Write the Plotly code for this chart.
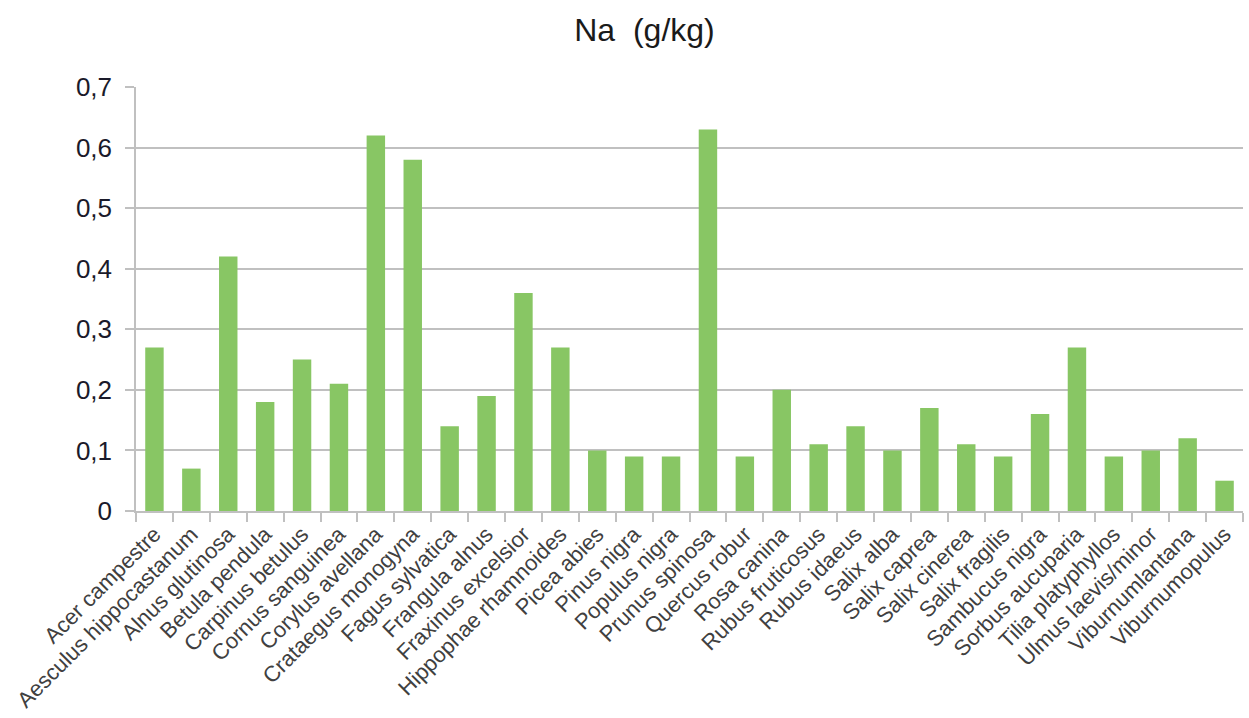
import plotly.graph_objects as go

species = ["Acer campestre", "Aesculus hippocastanum", "Alnus glutinosa", "Betula pendula",
           "Carpinus betulus", "Cornus sanguinea", "Corylus avellana", "Crataegus monogyna",
           "Fagus sylvatica", "Frangula alnus", "Fraxinus excelsior", "Hippophae rhamnoides",
           "Picea abies", "Pinus nigra", "Populus nigra", "Prunus spinosa", "Quercus robur",
           "Rosa canina", "Rubus fruticosus", "Rubus idaeus", "Salix alba", "Salix caprea",
           "Salix cinerea", "Salix fragilis", "Sambucus nigra", "Sorbus aucuparia",
           "Tilia platyphyllos", "Ulmus laevis/minor", "Viburnumlantana", "Viburnumopulus"]
na_values = [0.27, 0.07, 0.42, 0.18, 0.25, 0.21, 0.62, 0.58, 0.14, 0.19, 0.36, 0.27,
             0.10, 0.09, 0.09, 0.63, 0.09, 0.20, 0.11, 0.14, 0.10, 0.17, 0.11, 0.09,
             0.16, 0.27, 0.09, 0.10, 0.12, 0.05]
y_ticks = [0, 0.1, 0.2, 0.3, 0.4, 0.5, 0.6, 0.7]
title_text = "Na  (g/kg)"

grid_col = "#C0C0C0"
fig = go.Figure(go.Bar(x=species, y=na_values, marker=dict(color="#88C664", line=dict(width=0)),
                       hoverinfo="x+y"))

fig.update_layout(
    width=1249, height=718,
    margin=dict(l=136, r=6, t=87, b=207),
    paper_bgcolor="white", plot_bgcolor="white",
    separators=", ",
    bargap=0.5,
    showlegend=False,
    font=dict(family="Liberation Sans, Arial, sans-serif"),
    title=dict(text=title_text, x=0.516, xref="container", xanchor="center",
               y=1 - 30 / 718, yref="container", yanchor="middle",
               font=dict(size=32, color="#1a1a1a")),
)
fig.update_xaxes(
    type="category", tickangle=-45,
    tickfont=dict(size=22, color="#404040"),
    showline=True, linecolor=grid_col, linewidth=1.5,
    ticks="outside", tickson="boundaries", ticklen=9, tickcolor=grid_col, tickwidth=1.5,
    showgrid=False,
)
fig.update_yaxes(
    range=[0, 0.7], tickvals=y_ticks, tickformat=".1~f",
    tickfont=dict(size=26, color="#1a1a2a"),
    ticklabelstandoff=8,
    showline=True, linecolor=grid_col, linewidth=1.5,
    ticks="outside", ticklen=9, tickcolor=grid_col, tickwidth=1.5,
    showgrid=True, gridcolor=grid_col, gridwidth=1.5,
    zeroline=False,
)

fig.write_html("out.html")
